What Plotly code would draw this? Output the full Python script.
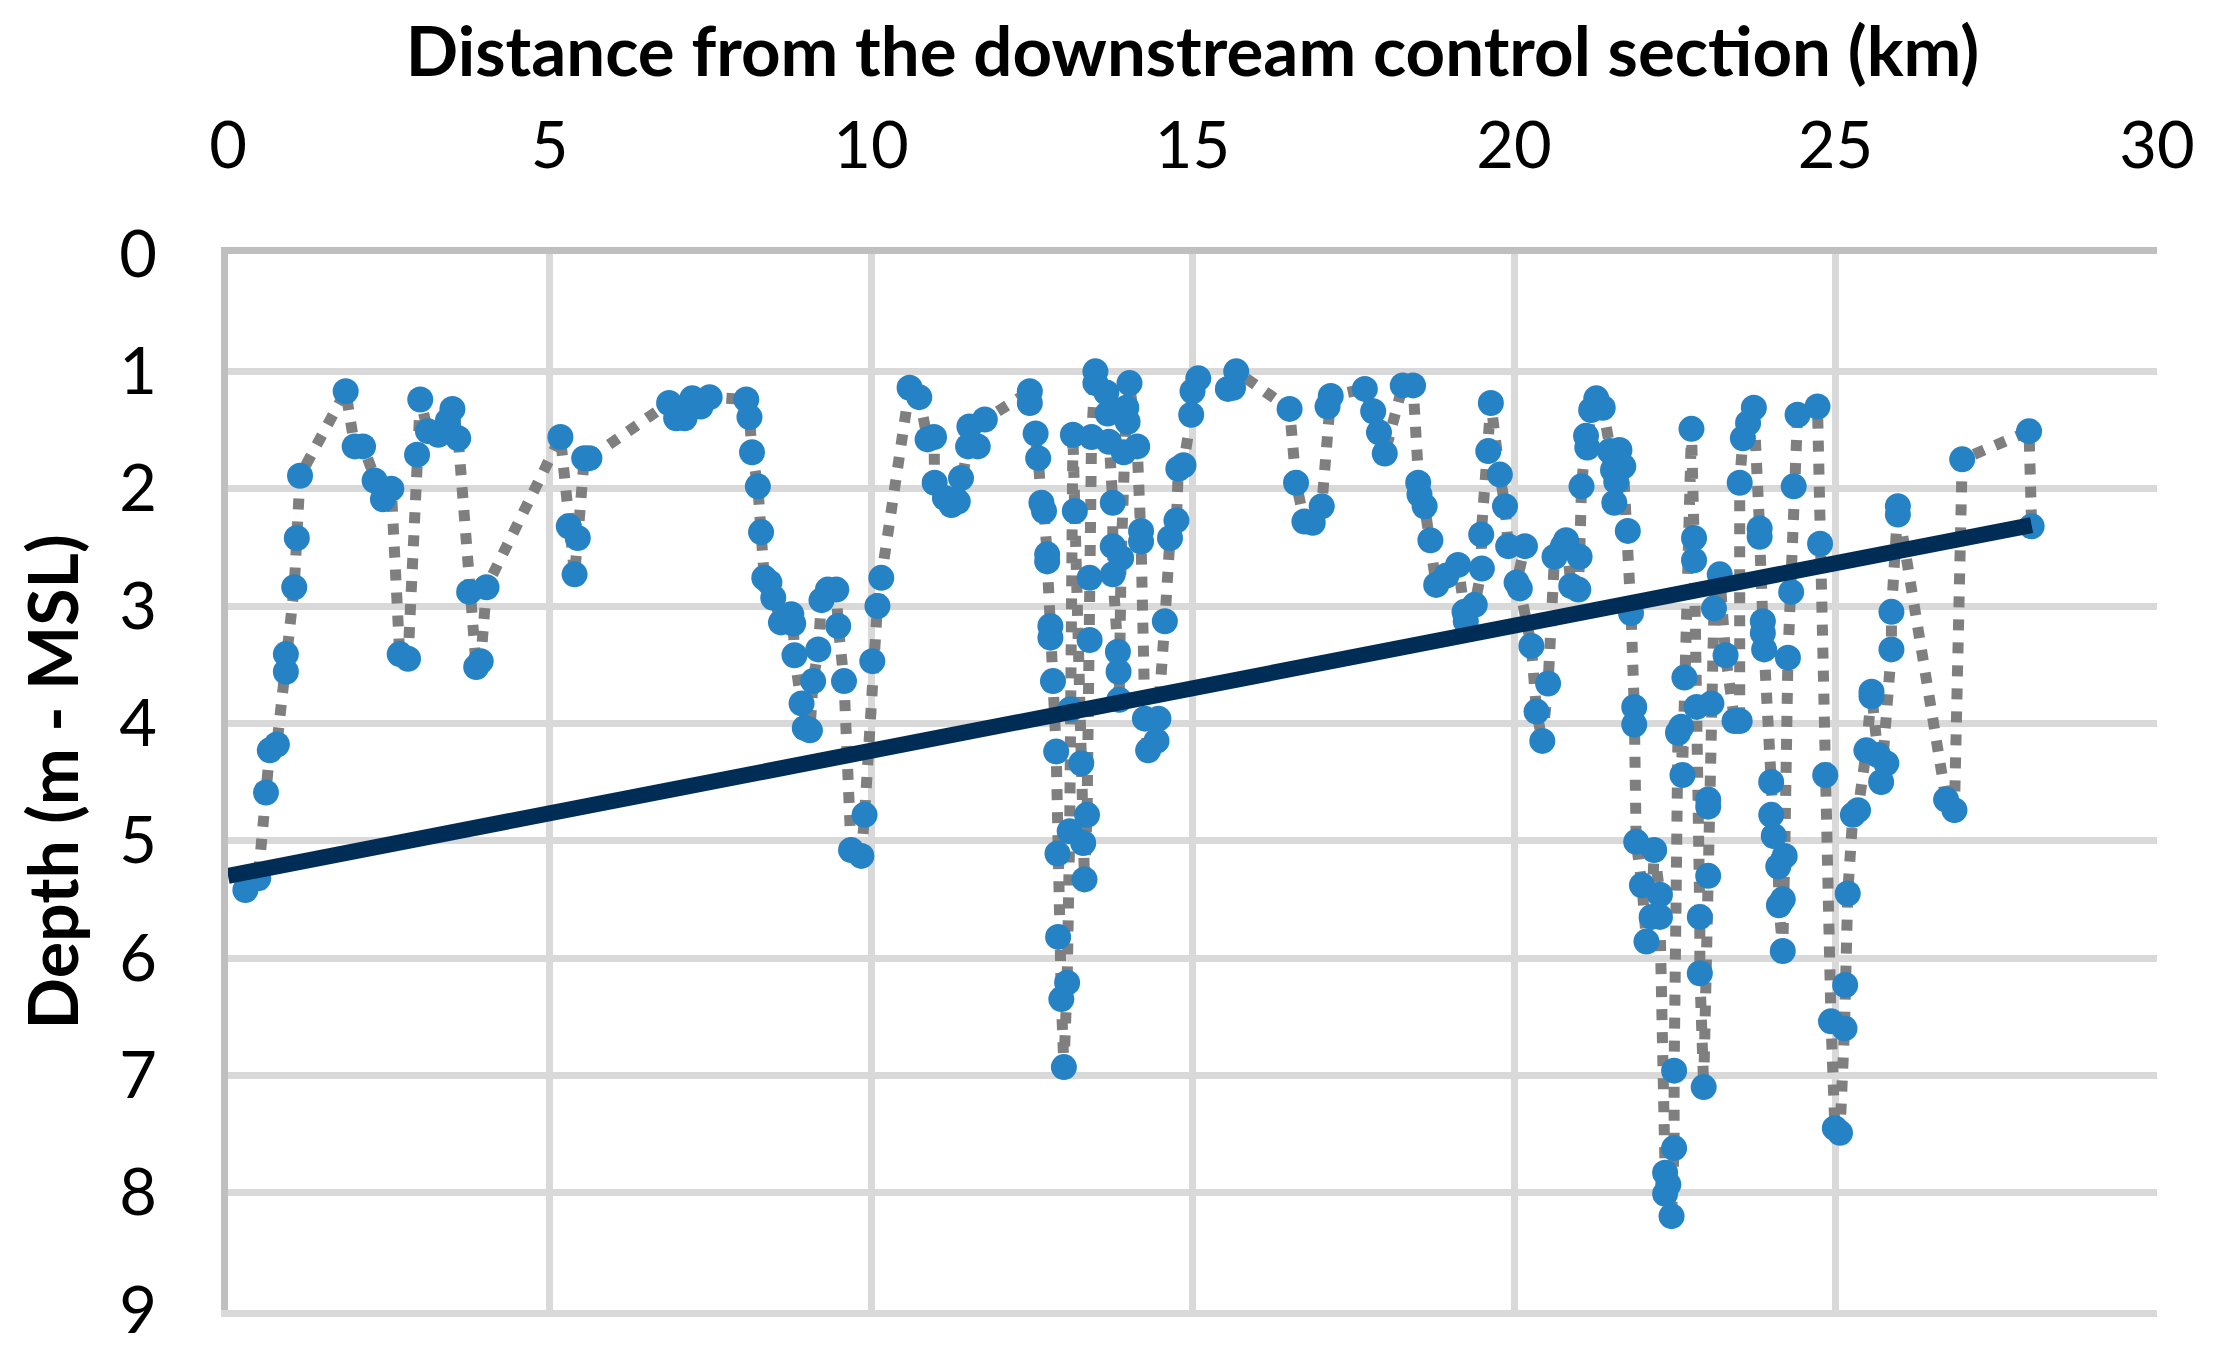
import plotly.graph_objects as go

# Distance from the downstream control section (km)
distance_km = [
    0.27, 0.47, 0.59, 0.65, 0.76, 0.90, 0.90, 1.03, 1.07, 1.12, 1.83, 1.97, 2.10, 2.28, 2.41, 2.54,
    2.67, 2.80, 2.94, 2.99, 3.11, 3.27, 3.42, 3.49, 3.58, 3.75, 3.86, 3.93, 4.02,
    5.17, 5.30, 5.39, 5.44, 5.54, 5.62, 6.86, 6.97, 7.10, 7.22, 7.35, 7.49,
    8.06, 8.11, 8.15, 8.24, 8.29, 8.34, 8.42, 8.48, 8.60, 8.76, 8.79, 8.81, 8.92, 8.97, 9.05,
    9.10, 9.18, 9.23, 9.33, 9.46, 9.49, 9.58, 9.69, 9.85, 9.90, 10.02, 10.10, 10.16,
    10.60, 10.75, 10.88, 10.98, 10.99, 11.15, 11.25, 11.35, 11.40, 11.51, 11.66, 11.53, 11.77,
    12.47, 12.47, 12.56, 12.60, 12.65, 12.69, 12.74, 12.74, 12.79, 12.79, 12.83, 12.88, 12.90,
    12.91, 12.96, 13.00, 13.05, 13.09, 13.10, 13.14, 13.17, 13.27, 13.30, 13.32, 13.36, 13.40,
    13.40, 13.43, 13.49, 13.49, 13.66, 13.68, 13.70, 13.76, 13.76, 13.76, 13.84, 13.85, 13.86,
    13.89, 13.93, 13.97, 13.99, 14.02, 14.14, 14.20, 14.20, 14.26, 14.31, 14.44, 14.47, 14.57,
    14.65, 14.75, 14.78, 14.86, 14.98, 15.00, 15.09, 15.55, 15.63, 15.68,
    16.51, 16.61, 16.74, 16.87, 17.01, 17.10, 17.15, 17.68, 17.81, 17.90, 17.99, 18.27, 18.43,
    18.51, 18.53, 18.61, 18.70, 18.79, 18.95, 19.13, 19.23, 19.25, 19.39, 19.50, 19.49, 19.60,
    19.64, 19.78, 19.86, 19.91, 20.17, 20.04, 20.09, 20.27, 20.35, 20.44, 20.53, 20.63, 20.76,
    20.81, 20.89, 21.00, 21.02, 21.05, 21.12, 21.14, 21.20, 21.28, 21.38, 21.49, 21.54, 21.59,
    21.56, 21.64, 21.70, 21.77, 21.82, 21.87, 21.87, 21.90, 21.99, 22.06, 22.14, 22.18, 22.27,
    22.27, 22.35, 22.35, 22.40, 22.45, 22.49, 22.49, 22.55, 22.60, 22.62, 22.65, 22.76, 22.80,
    22.80, 22.84, 22.89, 22.89, 22.95, 23.02, 23.02, 23.02, 23.07, 23.11, 23.20, 23.29, 23.43,
    23.51, 23.51, 23.56, 23.64, 23.73, 23.82, 23.82, 23.87, 23.87, 23.89, 24.00, 24.00, 24.04,
    24.11, 24.12, 24.18, 24.18, 24.21, 24.26, 24.31, 24.35, 24.41, 24.72, 24.76, 24.84, 24.93,
    24.99, 25.07, 25.14, 25.15, 25.19, 25.27, 25.35, 25.48, 25.56, 25.56, 25.66, 25.79, 25.71,
    25.87, 25.87, 25.97, 25.97, 26.72, 26.85, 26.97, 28.01, 28.05,
]

# Bed depth (m - MSL)
depth_m = [
    5.42, 5.32, 4.59, 4.23, 4.18, 3.56, 3.41, 2.84, 2.42, 1.89, 1.17, 1.64, 1.64, 1.93, 2.09, 2.00,
    3.41, 3.45, 1.71, 1.24, 1.51, 1.54, 1.42, 1.32, 1.57, 2.88, 3.52, 3.47, 2.84,
    1.56, 2.32, 2.73, 2.42, 1.74, 1.74, 1.27, 1.40, 1.40, 1.23, 1.30, 1.22,
    1.24, 1.39, 1.69, 1.98, 2.37, 2.76, 2.80, 2.93, 3.14, 3.07, 3.15, 3.42, 3.83, 4.04, 4.06,
    3.64, 3.37, 2.95, 2.86, 2.86, 3.17, 3.64, 5.08, 5.13, 4.78, 3.47, 3.00, 2.76,
    1.14, 1.22, 1.58, 1.56, 1.95, 2.08, 2.14, 2.11, 1.91, 1.64, 1.64, 1.47, 1.41,
    1.17, 1.27, 1.53, 1.74, 2.12, 2.19, 2.56, 2.62, 3.17, 3.27, 3.64, 4.24, 5.11,
    5.82, 6.35, 6.93, 6.21, 4.92, 3.88, 1.54, 2.19, 4.34, 5.02, 5.33, 4.78, 3.29,
    2.76, 1.56, 1.00, 1.10, 1.18, 1.36, 1.60, 2.12, 2.49, 2.73, 3.39, 3.56, 3.80,
    2.59, 1.69, 1.31, 1.43, 1.10, 1.64, 2.36, 2.45, 3.96, 4.23, 4.15, 3.96, 3.13,
    2.42, 2.27, 1.83, 1.80, 1.37, 1.17, 1.06, 1.15, 1.14, 1.00,
    1.32, 1.95, 2.28, 2.29, 2.15, 1.30, 1.21, 1.15, 1.34, 1.52, 1.70, 1.12, 1.12,
    1.95, 2.05, 2.15, 2.44, 2.82, 2.74, 2.65, 3.05, 3.13, 2.99, 2.68, 2.39, 1.68,
    1.27, 1.88, 2.15, 2.49, 2.49, 2.80, 2.85, 3.34, 3.90, 4.15, 3.66, 2.58, 2.49,
    2.44, 2.83, 2.86, 2.58, 1.98, 1.55, 1.65, 1.33, 1.23, 1.31, 1.68, 1.84, 1.94,
    2.12, 1.67, 1.81, 2.36, 3.06, 3.86, 4.01, 5.01, 5.38, 5.86, 5.65, 5.08, 5.46,
    5.65, 7.83, 8.01, 7.93, 8.20, 7.62, 6.96, 4.08, 4.03, 4.44, 3.61, 1.49, 2.42,
    2.61, 3.86, 5.65, 6.13, 7.10, 5.30, 4.71, 4.65, 3.83, 3.02, 2.73, 3.42, 3.98,
    3.98, 1.95, 1.57, 1.44, 1.31, 2.34, 2.41, 3.13, 3.23, 3.37, 4.50, 4.78, 4.96,
    5.22, 5.55, 5.94, 5.50, 5.13, 3.44, 2.88, 1.98, 1.37, 1.30, 2.47, 4.44, 6.54,
    7.45, 7.49, 6.60, 6.23, 5.45, 4.78, 4.74, 4.23, 3.77, 3.73, 4.27, 4.34, 4.50,
    3.37, 3.05, 2.22, 2.15, 4.65, 4.74, 1.75, 1.51, 2.32,
]

# Linear trend line end points
trend_x = [0.0, 28.05]
trend_y = [5.30, 2.31]

x_ticks = [0, 5, 10, 15, 20, 25, 30]
y_ticks = [0, 1, 2, 3, 4, 5, 6, 7, 8, 9]

FONT = "Lato"

fig = go.Figure()
# trend line lives on the overlaying bottom axis (same range), drawn underneath
fig.add_trace(go.Scatter(
    x=trend_x, y=trend_y, mode="lines", xaxis="x2", yaxis="y",
    line=dict(color="#002D56", width=16),
    showlegend=False, hoverinfo="skip",
))
fig.add_trace(go.Scatter(
    x=distance_km, y=depth_m, mode="lines+markers",
    line=dict(color="#7F7F7F", width=11, dash="11px,12px"),
    marker=dict(color="#2583C5", size=26, line=dict(width=0)),
    showlegend=False, hoverinfo="x+y",
))

fig.update_layout(
    width=2216, height=1360,
    margin=dict(l=220, r=67, t=246, b=58, autoexpand=False),
    paper_bgcolor="white", plot_bgcolor="white",
    font=dict(family=FONT, color="black"),
    xaxis=dict(
        side="top", range=[0, 30], tickvals=x_ticks, ticktext=[str(v) for v in x_ticks],
        showgrid=True, gridcolor="#D9D9D9", gridwidth=7,
        showline=True, linecolor="#BFBFBF", linewidth=7, mirror=False,
        zeroline=False, ticks="", tickfont=dict(size=65, family=FONT),
        ticklabelstandoff=53, automargin=False,
        title=dict(text="<b>Distance from the downstream control section (km)</b>",
                   font=dict(size=69, family=FONT), standoff=18),
    ),
    # bottom border in the gridline colour
    xaxis2=dict(
        overlaying="x", side="bottom", range=[0, 30], anchor="y",
        showline=True, linecolor="#D9D9D9", linewidth=7,
        showgrid=False, zeroline=False, showticklabels=False, ticks="",
        automargin=False,
    ),
    yaxis=dict(
        range=[9, 0], tickvals=y_ticks, ticktext=[str(v) for v in y_ticks],
        showgrid=True, gridcolor="#D9D9D9", gridwidth=7,
        showline=True, linecolor="#BFBFBF", linewidth=7,
        zeroline=False, ticks="", tickfont=dict(size=65, family=FONT),
        ticklabelstandoff=51, automargin=False,
        title=dict(text="<b>Depth (m - MSL)</b>", font=dict(size=68, family=FONT), standoff=21),
    ),
)

fig.write_html("out.html")
